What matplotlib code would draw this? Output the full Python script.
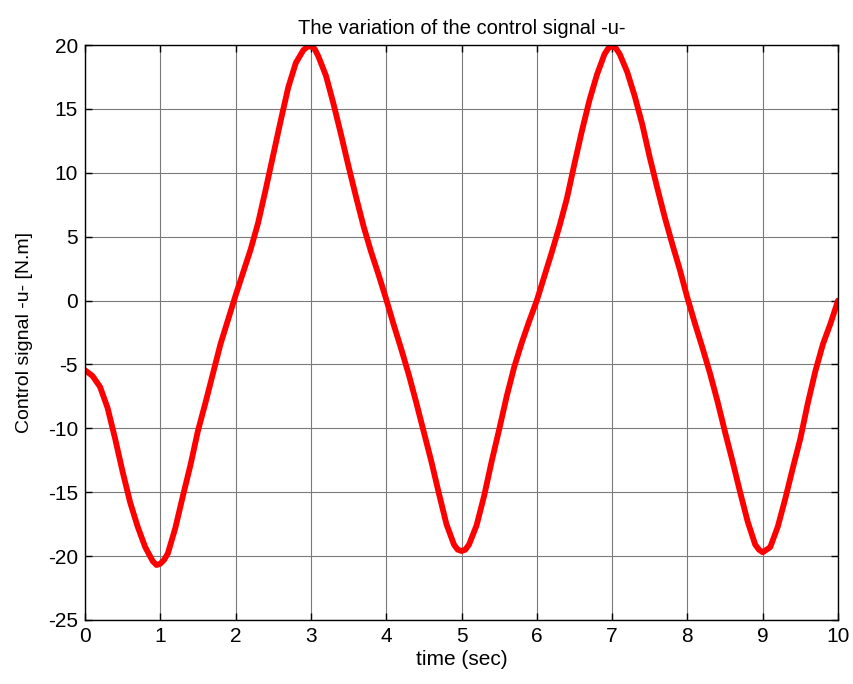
import matplotlib
matplotlib.use("Agg")
import matplotlib.pyplot as plt

t = [0.0, 0.1, 0.2, 0.3, 0.4, 0.5, 0.6, 0.7, 0.8, 0.9, 0.95,
     1.0, 1.05, 1.1, 1.2, 1.3, 1.4, 1.5, 1.6, 1.7, 1.8, 1.9,
     2.0, 2.1, 2.2, 2.3, 2.4, 2.5, 2.6, 2.7, 2.8, 2.9, 2.95,
     3.0, 3.05, 3.1, 3.2, 3.3, 3.4, 3.5, 3.6, 3.7, 3.8, 3.9,
     4.0, 4.1, 4.2, 4.3, 4.4, 4.5, 4.6, 4.7, 4.8, 4.9, 4.95,
     5.0, 5.05, 5.1, 5.2, 5.3, 5.4, 5.5, 5.6, 5.7, 5.8, 5.9,
     6.0, 6.1, 6.2, 6.3, 6.4, 6.5, 6.6, 6.7, 6.8, 6.9, 6.95,
     7.0, 7.05, 7.1, 7.2, 7.3, 7.4, 7.5, 7.6, 7.7, 7.8, 7.9,
     8.0, 8.1, 8.2, 8.3, 8.4, 8.5, 8.6, 8.7, 8.8, 8.9, 8.95,
     9.0, 9.05, 9.1, 9.2, 9.3, 9.4, 9.5, 9.6, 9.7, 9.8, 9.9, 10.0]

u = [-5.45, -5.9, -6.75, -8.4, -10.8, -13.4, -15.8, -17.7, -19.3, -20.4, -20.7,
     -20.6, -20.3, -19.8, -17.8, -15.3, -12.9, -10.2, -8.0, -5.7, -3.4, -1.5,
     0.4, 2.2, 4.0, 6.1, 8.7, 11.4, 14.1, 16.7, 18.6, 19.6, 19.85,
     19.9, 19.7, 19.1, 17.6, 15.4, 13.0, 10.5, 8.1, 5.8, 3.8, 2.0,
     0.1, -1.9, -3.8, -5.8, -8.0, -10.3, -12.6, -15.1, -17.5, -19.1, -19.5,
     -19.6, -19.5, -19.1, -17.6, -15.3, -12.6, -10.1, -7.5, -5.2, -3.3, -1.6,
     0.0, 1.9, 3.8, 5.8, 8.0, 10.7, 13.3, 15.7, 17.7, 19.3, 19.75,
     19.9, 19.75, 19.3, 17.9, 16.0, 13.8, 11.2, 8.8, 6.5, 4.4, 2.4,
     0.2, -1.8, -3.7, -5.7, -7.9, -10.3, -12.6, -15.0, -17.3, -19.1, -19.5,
     -19.7, -19.5, -19.3, -17.7, -15.5, -13.1, -10.8, -8.0, -5.5, -3.4, -1.8, 0.0]

xticks = [0, 1, 2, 3, 4, 5, 6, 7, 8, 9, 10]
yticks = [-25, -20, -15, -10, -5, 0, 5, 10, 15, 20]

plt.rcParams['font.family'] = ['Liberation Sans', 'DejaVu Sans']
plt.rcParams['axes.unicode_minus'] = False

fig = plt.figure(figsize=(8.54, 6.84), dpi=100)
ax = fig.add_axes([0.0995, 0.0936, 0.8818, 0.8406])
ax.plot(t, u, color='red', linewidth=4.2, solid_joinstyle='round', solid_capstyle='round')
ax.set_xlim(0, 10)
ax.set_ylim(-25, 20)
ax.set_xticks(xticks)
ax.set_yticks(yticks)
ax.grid(True, color='#7a7a7a', linewidth=0.8, linestyle='-')
ax.tick_params(direction='in', length=5, width=1, top=True, right=True,
               labelsize=15, pad=5, colors='black')
for s in ax.spines.values():
    s.set_linewidth(1.0)
ax.set_title('The variation of the control signal -u-', fontsize=14.5, pad=8)
ax.set_xlabel('time (sec)', fontsize=15, labelpad=3)
ax.set_ylabel('Control signal -u- [N.m]', fontsize=14, labelpad=11)
fig.savefig('out.png', dpi=100)
